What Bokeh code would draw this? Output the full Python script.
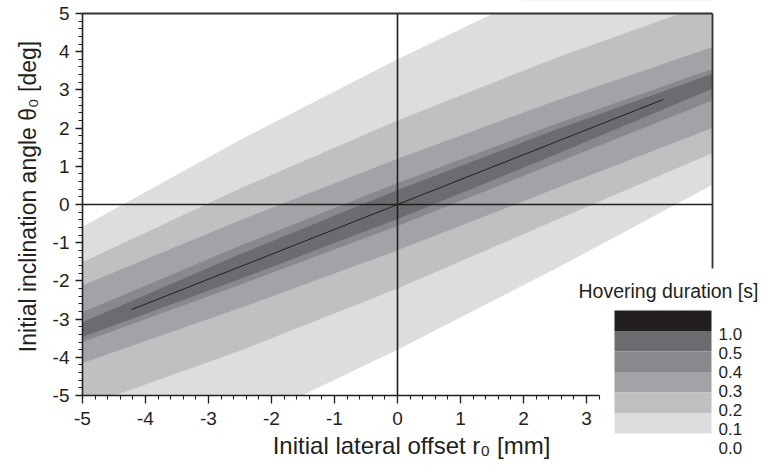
from bokeh.plotting import figure
from bokeh.models import Range1d, Label, BoxAnnotation, SingleIntervalTicker
from bokeh.embed import file_html
from bokeh.resources import INLINE
import math

# ---- data ----
r_cols = [-5.0, -2.5, 0.0, 2.5, 5.0]          # initial lateral offset r0 [mm]
# band boundaries (theta0 [deg]) where hovering duration >= level
upper_01 = [-0.58, 1.69, 3.80, 5.77, 7.58]
lower_01 = [-7.58, -5.77, -3.80, -1.69, 0.52]
upper_02 = [-1.51, 0.42, 2.20, 3.83, 5.30]
lower_02 = [-5.30, -3.83, -2.20, -0.42, 1.35]
upper_03 = [-2.12, -0.41, 1.20, 2.71, 4.12]
lower_03 = [-4.15, -2.71, -1.20, 0.41, 2.00]
upper_04 = [-2.82, -1.08, 0.56, 2.10, 3.55]
lower_04 = [-3.60, -2.10, -0.56, 1.08, 2.72]
upper_05 = [-3.08, -1.30, 0.38, 1.95, 3.42]
lower_05 = [-3.47, -1.95, -0.38, 1.30, 3.03]
center_r = [-4.22, 4.22]
center_theta = [-2.75, 2.75]

levels = ["0.1", "0.2", "0.3", "0.4", "0.5"]
level_colors = ["#dcdddf", "#bfc0c2", "#a1a3a6", "#88898c", "#6b6c6f"]
legend_colors = ["#231f20", "#6b6c6f", "#88898c", "#a1a3a6", "#bfc0c2", "#dcdddf"]
legend_labels = ["1.0", "0.5", "0.4", "0.3", "0.2", "0.1", "0.0"]
x_min, x_max, x_axis_end = -5, 5, 3.21
y_min, y_max = -5, 5
tick_vals = list(range(-5, 6))

FONT = "Liberation Sans"
INK = "#231f20"

# ---- layout (canvas pixels) ----
W, H = 763, 459
PX_XMIN, PX_PER_X = 82.0, 63.0       # canvas x of r=-5, px per mm
PY_YMAX, PY_YMIN = 13.0, 395.0       # canvas y of theta=5 and theta=-5
PY_PER_Y = (PY_YMIN - PY_YMAX) / (y_max - y_min)
X0 = x_min - PX_XMIN / PX_PER_X
X1 = X0 + W / PX_PER_X
Y1 = y_max + PY_YMAX / PY_PER_Y
Y0 = Y1 - H / PY_PER_Y

def rx(px):
    return X0 + px / PX_PER_X

def ry(py):
    return Y1 - py / PY_PER_Y

p = figure(width=W, height=H, output_backend="svg", toolbar_location=None,
           x_range=Range1d(X0, X1), y_range=Range1d(Y0, Y1),
           min_border_left=0, min_border_right=0, min_border_top=0, min_border_bottom=0)
p.outline_line_color = None
p.grid.visible = False
p.background_fill_color = "white"
p.border_fill_color = "white"

uppers = [upper_01, upper_02, upper_03, upper_04, upper_05]
lowers = [lower_01, lower_02, lower_03, lower_04, lower_05]
for up, lo, col in zip(uppers, lowers, level_colors):
    p.varea(x=r_cols, y1=lo, y2=up, fill_color=col, fill_alpha=1.0, level="image")

# white masks outside the plotted theta range
p.add_layout(BoxAnnotation(left=X0 - 1, right=X1 + 1, bottom=Y0 - 1, top=y_min,
                           fill_color="white", fill_alpha=1.0, line_color=None, level="underlay"))
p.add_layout(BoxAnnotation(left=X0 - 1, right=X1 + 1, bottom=y_max, top=Y1 + 1,
                           fill_color="white", fill_alpha=1.0, line_color=None, level="underlay"))

p.line(center_r, center_theta, line_color=INK, line_width=1)

# zero lines and frame parts
p.segment(x0=[x_min, 0], y0=[0, y_min], x1=[x_max, 0], y1=[0, y_max], line_color=INK, line_width=1.6)
p.segment(x0=[x_min, x_max], y0=[y_max, y_max], x1=[x_max, x_max], y1=[y_max, ry(268)],
          line_color="#333333", line_width=1.8)

# axes
for ax in (p.xaxis, p.yaxis):
    ax.ticker = SingleIntervalTicker(interval=1, num_minor_ticks=5)
    ax.fixed_location = -5
    ax.axis_line_color = INK
    ax.axis_line_width = 1.6
    ax.major_tick_line_color = INK
    ax.minor_tick_line_color = INK
    ax.major_tick_line_width = 1.3
    ax.minor_tick_line_width = 1.1
    ax.major_tick_in = 0
    ax.minor_tick_in = 0
    ax.major_label_text_font = FONT
    ax.major_label_text_font_size = "19px"
    ax.major_label_text_color = INK
    ax.major_label_overrides = {v: str(v) for v in tick_vals}
p.xaxis.bounds = (x_min, x_axis_end)
p.yaxis.bounds = (y_min, y_max)
p.xaxis.major_tick_out = 8
p.xaxis.minor_tick_out = 4
p.yaxis.major_tick_out = 7
p.yaxis.minor_tick_out = 4
p.xaxis.major_label_standoff = 8
p.yaxis.major_label_standoff = 6

# axis titles
p.add_layout(Label(x=rx(411), y=ry(445), text="Initial lateral offset r\u2080 [mm]",
                   text_font=FONT, text_font_size="24px", text_color=INK,
                   text_align="center", text_baseline="middle"))
p.add_layout(Label(x=rx(27), y=ry(196), text="Initial inclination angle \u03b8\u2080 [deg]",
                   angle=math.pi / 2, text_font=FONT, text_font_size="23px", text_color=INK,
                   text_align="center", text_baseline="middle"))

# legend
p.add_layout(Label(x=rx(578), y=ry(290), text="Hovering duration [s]",
                   text_font=FONT, text_font_size="19.5px", text_color=INK,
                   text_align="left", text_baseline="middle"))
sw_top = 310
sw_h = 20.5
for i, col in enumerate(legend_colors):
    p.add_layout(BoxAnnotation(left=rx(614), right=rx(711),
                               top=ry(sw_top + i * sw_h), bottom=ry(sw_top + (i + 1) * sw_h),
                               fill_color=col, fill_alpha=1.0, line_color=None))
for i, lab in enumerate(legend_labels):
    p.add_layout(Label(x=rx(718), y=ry(333 + i * 19.0), text=lab,
                       text_font=FONT, text_font_size="17px", text_color=INK,
                       text_align="left", text_baseline="middle"))

open("out.html", "w").write(file_html(p, INLINE))
